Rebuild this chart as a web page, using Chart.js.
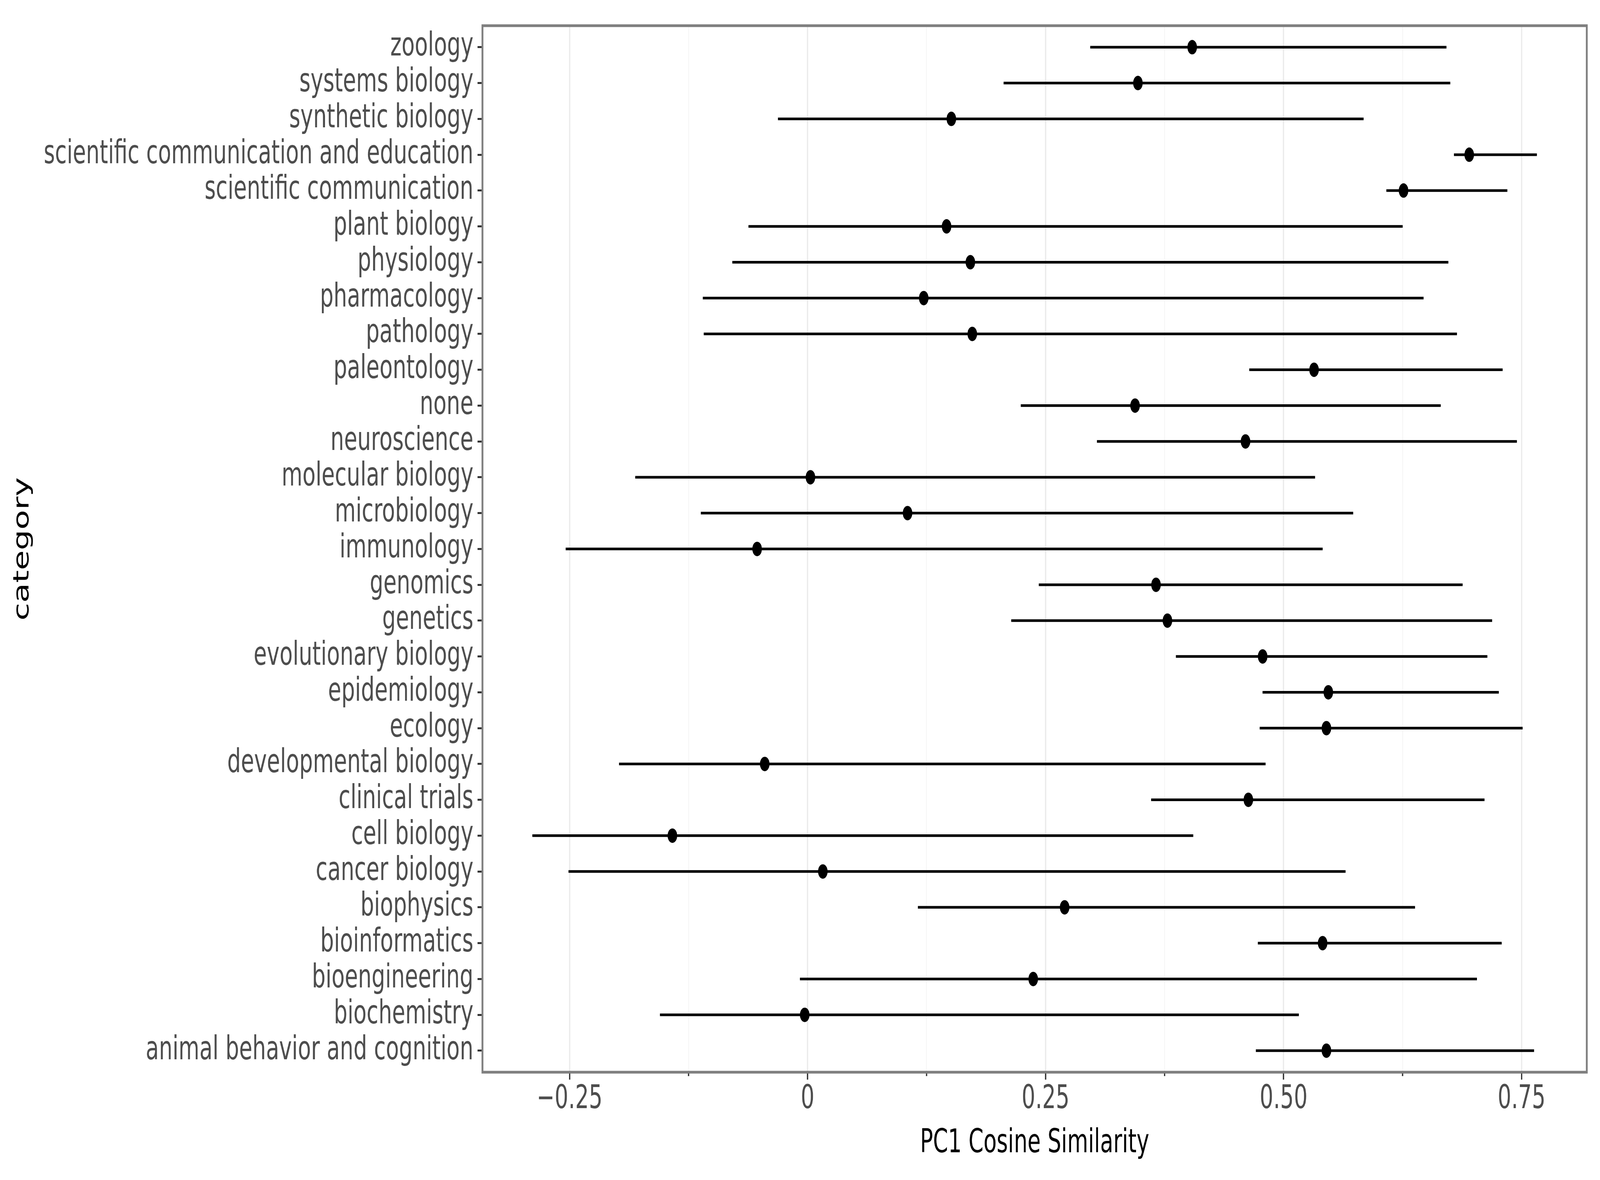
<!DOCTYPE html>
<html>
<head>
<meta charset="utf-8">
<script src="https://cdn.jsdelivr.net/npm/chart.js@4.4.1/dist/chart.umd.min.js"></script>
<style>
  html, body { margin: 0; padding: 0; background: #ffffff; overflow: hidden; }
  /* the chart is drawn on a 6175x3021 canvas and shown across the whole window */
  #chart { display: block; width: 100vw !important; height: 100vh !important; }
</style>
</head>
<body>
<canvas id="chart" width="6175" height="3021" style="width:100vw;height:100vh"></canvas>
<script>
// categories from bottom (position 1) to top
const categories = [
  'animal behavior and cognition', 'biochemistry', 'bioengineering', 'bioinformatics',
  'biophysics', 'cancer biology', 'cell biology', 'clinical trials',
  'developmental biology', 'ecology', 'epidemiology', 'evolutionary biology',
  'genetics', 'genomics', 'immunology', 'microbiology', 'molecular biology',
  'neuroscience', 'none', 'paleontology', 'pathology', 'pharmacology',
  'physiology', 'plant biology', 'scientific communication',
  'scientific communication and education', 'synthetic biology',
  'systems biology', 'zoology'
]
const lower = [
  0.471, -0.155, -0.008, 0.473, 0.116, -0.251, -0.289, 0.361,
  -0.198, 0.475, 0.478, 0.387, 0.214, 0.243, -0.254, -0.112, -0.181,
  0.304, 0.224, 0.464, -0.109, -0.110, -0.079, -0.062, 0.608,
  0.679, -0.031, 0.206, 0.297
]
const estimate = [
  0.545, -0.003, 0.237, 0.541, 0.270, 0.016, -0.142, 0.463,
  -0.045, 0.545, 0.547, 0.478, 0.378, 0.366, -0.053, 0.105, 0.003,
  0.460, 0.344, 0.532, 0.173, 0.122, 0.171, 0.146, 0.626,
  0.695, 0.151, 0.347, 0.404
]
const upper = [
  0.763, 0.516, 0.703, 0.729, 0.638, 0.565, 0.405, 0.711,
  0.481, 0.751, 0.726, 0.714, 0.719, 0.688, 0.541, 0.573, 0.533,
  0.745, 0.665, 0.730, 0.682, 0.647, 0.673, 0.625, 0.735,
  0.766, 0.584, 0.675, 0.671
]
const xGridValues = [-0.25, -0.125, 0, 0.125, 0.25, 0.375, 0.5, 0.625, 0.75]
const xTickLabels = ['\u22120.25', '', '0', '', '0.25', '', '0.50', '', '0.75']

const FONT = 'DejaVu Sans'
const isMajor = i => xTickLabels[i] !== ''

const ranges = categories.map((c, i) => ({ y: i + 1, x: [lower[i], upper[i]] }))
const points = categories.map((c, i) => ({ y: i + 1, x: estimate[i] }))

// panel border + short minor ticks (like ggplot theme_bw)
const panelPlugin = {
  id: 'panel',
  afterDraw(chart) {
    const { ctx, chartArea: a, scales } = chart
    ctx.save()
    ctx.strokeStyle = '#333333'
    ctx.lineWidth = 5
    xGridValues.forEach((v, i) => {
      if (isMajor(i)) return
      const x = scales.x.getPixelForValue(v)
      ctx.beginPath()
      ctx.moveTo(x, a.bottom)
      ctx.lineTo(x, a.bottom + 10)
      ctx.stroke()
    })
    ctx.strokeStyle = '#7f7f7f'
    ctx.lineWidth = 7
    ctx.strokeRect(a.left, a.top, a.right - a.left, a.bottom - a.top)
    ctx.restore()
  }
}

const tickFont = { family: FONT, size: 83 }

new Chart(document.getElementById('chart'), {
  type: 'bar',
  data: {
    datasets: [
      {
        type: 'scatter',
        data: points,
        backgroundColor: '#000000',
        borderWidth: 0,
        pointRadius: 18.5,
        pointHoverRadius: 18.5,
        order: 0
      },
      {
        type: 'bar',
        indexAxis: 'y',
        data: ranges,
        backgroundColor: '#000000',
        borderWidth: 0,
        borderSkipped: false,
        barThickness: 6,
        order: 1
      }
    ]
  },
  options: {
    responsive: false,
    devicePixelRatio: 1,
    animation: false,
    layout: { padding: { left: 0, right: 51, top: 50, bottom: 0 } },
    plugins: {
      legend: { display: false },
      tooltip: { enabled: false }
    },
    scales: {
      x: {
        type: 'linear',
        offset: false,
        beginAtZero: false,
        min: -0.3415,
        max: 0.8185,
        afterBuildTicks: s => { s.ticks = xGridValues.map(v => ({ value: v })) },
        afterFit: s => { s.height = 276 },
        border: { display: false },
        grid: {
          offset: false,
          color: c => isMajor(c.index) ? '#ebebeb' : '#f5f5f5',
          lineWidth: c => isMajor(c.index) ? 5 : 3,
          tickColor: c => isMajor(c.index) ? '#333333' : 'rgba(0,0,0,0)',
          tickWidth: 5,
          tickLength: 19
        },
        ticks: {
          autoSkip: false,
          maxRotation: 0,
          padding: 2,
          color: '#4d4d4d',
          font: tickFont,
          callback: (v, i) => xTickLabels[i]
        },
        title: {
          display: true,
          text: 'PC1 Cosine Similarity',
          color: '#000000',
          font: tickFont,
          padding: { top: 0, bottom: 43 }
        }
      },
      y: {
        type: 'linear',
        offset: false,
        beginAtZero: false,
        min: 0.4,
        max: 29.6,
        afterBuildTicks: s => { s.ticks = categories.map((c, i) => ({ value: i + 1 })) },
        afterFit: s => { s.width = 1862 },
        border: { display: false },
        grid: {
          offset: false,
          drawOnChartArea: false,
          tickColor: '#333333',
          tickWidth: 5,
          tickLength: 19
        },
        ticks: {
          autoSkip: false,
          padding: 16,
          color: '#4d4d4d',
          font: tickFont,
          callback: v => categories[v - 1]
        },
        title: {
          display: true,
          text: 'category',
          color: '#000000',
          font: tickFont,
          padding: { top: 39, bottom: 0 }
        }
      }
    }
  },
  plugins: [panelPlugin]
})
</script>
</body>
</html>
